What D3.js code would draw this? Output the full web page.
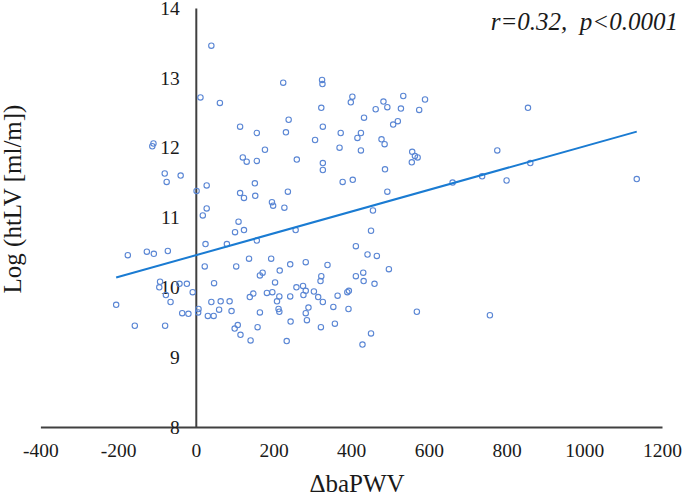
<!DOCTYPE html>
<html>
<head>
<meta charset="utf-8">
<script src="https://cdn.jsdelivr.net/npm/d3@7"></script>
<style>
  html, body { margin: 0; padding: 0; background: #ffffff; }
  svg { display: block; }
  svg text { font-family: "Liberation Serif", "Times New Roman", serif; }
</style>
</head>
<body>
<svg id="chart" width="682" height="496"></svg>
<script>
// ---- data ----
const xTicks = [-400, -200, 0, 200, 400, 600, 800, 1000, 1200];
const yTicks = [8, 9, 10, 11, 12, 13, 14];
const xLabel = "\u0394baPWV";
const yLabel = "Log (htLV [ml/m])";
const statText = "r=0.32,\u00a0 p<0.0001";

const baPWV = [
  40,225,325,326,12,62,403,399,483,534,590,323,463,493,528,575,855,239,433,520,
  508,114,327,157,232,373,425,416,478,307,486,-109,-112,370,178,425,557,776,564,571,
  121,131,157,260,327,327,556,861,487,-80,-75,-39,737,378,404,800,661,1135,152,28,
  2,237,493,114,153,124,196,199,228,28,456,18,110,101,124,257,451,157,25,80,
  412,-175,-126,-108,-72,442,466,137,194,23,104,243,283,339,497,216,172,165,323,412,
  431,321,432,460,-92,-42,-23,47,204,-94,-8,259,276,-77,148,183,197,139,215,243,
  277,283,304,315,327,365,390,394,209,-65,40,64,87,-205,7,6,60,92,213,215,
  290,283,354,393,-35,-19,31,46,165,569,757,244,286,358,-157,-79,108,100,159,322,
  115,451,141,234,429
];
const logHtLV = [
  13.46,12.93,12.97,12.91,12.72,12.64,12.73,12.65,12.66,12.74,12.69,12.57,12.55,12.58,12.56,12.54,12.57,12.40,12.43,12.38,
  12.33,12.30,12.30,12.21,12.22,12.21,12.21,12.14,12.12,12.11,12.05,12.06,12.02,12.00,11.97,11.96,11.94,11.96,11.88,11.86,
  11.86,11.80,11.81,11.83,11.78,11.68,11.79,11.78,11.69,11.63,11.51,11.60,11.59,11.51,11.54,11.53,11.50,11.55,11.49,11.46,
  11.38,11.37,11.37,11.35,11.31,11.28,11.22,11.17,11.14,11.13,11.10,11.03,10.94,10.79,10.82,10.82,10.81,10.67,10.62,10.62,
  10.59,10.46,10.51,10.48,10.52,10.47,10.45,10.41,10.41,10.30,10.30,10.33,10.36,10.32,10.26,10.24,10.21,10.17,10.16,10.16,
  10.21,10.09,10.09,10.05,10.08,10.05,10.05,10.06,10.07,10.00,9.93,10.00,10.02,9.89,9.91,9.92,9.93,9.86,9.87,9.87,
  9.89,9.95,9.94,9.86,9.79,9.88,9.93,9.95,9.80,9.79,9.79,9.80,9.80,9.75,9.69,9.64,9.68,9.66,9.69,9.65,
  9.71,9.63,9.72,9.69,9.63,9.62,9.59,9.59,9.64,9.65,9.60,9.51,9.53,9.48,9.45,9.45,9.46,9.41,9.43,9.43,
  9.32,9.34,9.24,9.23,9.18
];
const trendX = [-205, 1135];
const trendY = [10.14, 12.23];

// ---- layout ----
const svg = d3.select("#chart");
const x = d3.scaleLinear().domain([-400, 1200]).range([40.4, 662]);
const y = d3.scaleLinear().domain([8, 14]).range([427, 8]);
const axisColor = "#404040";
const textColor = "#1a1a1a";
const serif = '"Liberation Serif", "Times New Roman", serif';

// x axis
const gx = svg.append("g")
  .attr("transform", `translate(0,${y(8)})`)
  .call(d3.axisBottom(x).tickValues(xTicks).tickFormat(d => String(d))
        .tickSize(0).tickSizeOuter(0).tickPadding(15.7));
gx.attr("font-family", null);
gx.select(".domain").attr("stroke", axisColor).attr("stroke-width", 2);
gx.selectAll("text").style("font-family", serif)
  .style("font-size", "19.5px").attr("fill", textColor);

// y axis (crossing at x = 0)
const gy = svg.append("g")
  .attr("transform", `translate(${x(0)},0)`)
  .call(d3.axisLeft(y).tickValues(yTicks).tickFormat(d => String(d))
        .tickSize(0).tickSizeOuter(0).tickPadding(16));
gy.attr("font-family", null);
gy.select(".domain").attr("stroke", axisColor).attr("stroke-width", 2);
gy.selectAll("text").style("font-family", serif)
  .style("font-size", "19.5px").attr("fill", textColor);

// points
const pts = baPWV.map((v, i) => ({ x: v, y: logHtLV[i] }));
svg.append("g").selectAll("circle").data(pts).join("circle")
  .attr("cx", d => x(d.x)).attr("cy", d => y(d.y)).attr("r", 2.7)
  .attr("fill", "none").attr("stroke", "#5a86d4").attr("stroke-width", 1.1);

// trend line
svg.append("path")
  .datum(trendX.map((v, i) => [v, trendY[i]]))
  .attr("fill", "none").attr("stroke", "#1a7bd2").attr("stroke-width", 2)
  .attr("d", d3.line().x(d => x(d[0])).y(d => y(d[1])));

// axis titles
svg.append("text")
  .attr("x", 357).attr("y", 492).attr("text-anchor", "middle")
  .style("font-family", serif).style("font-size", "25px").attr("fill", textColor).text(xLabel);
svg.append("text")
  .attr("transform", "translate(21,199) rotate(-90)").attr("text-anchor", "middle")
  .style("font-family", serif).style("font-size", "25px").attr("fill", textColor).text(yLabel);

// statistics annotation
svg.append("text")
  .attr("x", 678).attr("y", 30).attr("text-anchor", "end")
  .style("font-family", serif).style("font-size", "25px").style("font-style", "italic")
  .attr("fill", textColor).text(statText);
</script>
</body>
</html>
